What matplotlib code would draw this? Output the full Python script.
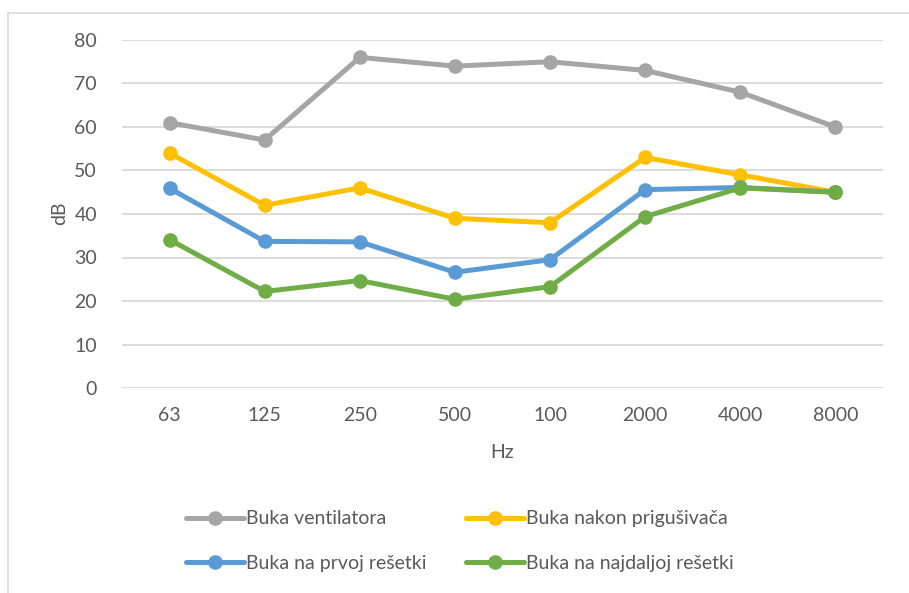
import matplotlib.pyplot as plt
from matplotlib.lines import Line2D

# Chart data
categories = ['63', '125', '250', '500', '100', '2000', '4000', '8000']
ventilator = [61, 57, 76, 74, 75, 73, 68, 60]
after_silencer = [54, 42, 46, 39, 38, 53, 49, 45]
first_grille = [45.9, 33.7, 33.6, 26.6, 29.5, 45.6, 46.1, 45.0]
farthest_grille = [34.1, 22.2, 24.7, 20.4, 23.3, 39.4, 46.0, 45.0]

series = [
    ('Buka ventilatora', ventilator, '#A5A5A5'),
    ('Buka nakon prigušivača', after_silencer, '#FFC000'),
    ('Buka na prvoj rešetki', first_grille, '#5B9BD5'),
    ('Buka na najdaljoj rešetki', farthest_grille, '#70AD47'),
]

plt.rcParams['font.family'] = ['Lato', 'DejaVu Sans']
text_color = '#595959'

W, H = 909, 593
fig = plt.figure(figsize=(W / 100, H / 100), dpi=100)
ax = fig.add_axes([122 / W, 1 - 388 / H, (883 - 122) / W, (388 - 40) / H])

x = list(range(len(categories)))
lines = []
for name, vals, color in series:
    ln, = ax.plot(x, vals, color=color, linewidth=3.6, marker='o', markersize=9.5,
                  label=name, solid_capstyle='round')
    lines.append(ln)

ax.set_xlim(-0.5, len(categories) - 0.5)
ax.set_ylim(0, 80)
ax.set_yticks(range(0, 81, 10))
ax.set_xticks(x)
ax.set_xticklabels(categories)
ax.grid(axis='y', color='#D9D9D9', linewidth=1.3)
ax.set_axisbelow(True)
for s in ax.spines.values():
    s.set_visible(False)
ax.tick_params(length=0, labelsize=14, colors=text_color, pad=14)
ax.tick_params(axis='y', pad=18)

fig.text(502 / W, 1 - 453 / H, 'Hz', ha='center', va='center', fontsize=14, color=text_color)
fig.text(60 / W, 1 - 213 / H, 'dB', ha='center', va='center', fontsize=14,
         color=text_color, rotation=90)

# outer chart border (only top and left are visible in the crop)
fig.add_artist(Line2D([8 / W, 8 / W], [0, 1 - 13 / H], color='#D9D9D9', linewidth=1.2))
fig.add_artist(Line2D([8 / W, 1], [1 - 13 / H, 1 - 13 / H], color='#D9D9D9', linewidth=1.2))

# legend is filled row by row: gray, yellow / blue, green
order = [0, 2, 1, 3]
leg = fig.legend([lines[i] for i in order], [series[i][0] for i in order],
                 loc='center', bbox_to_anchor=(460 / W, 1 - 541 / H), ncol=2,
                 frameon=False, fontsize=14, handlelength=3.0, handletextpad=0.1,
                 columnspacing=2.0, labelspacing=1.4, labelcolor=text_color)

fig.savefig('out.png', dpi=100)
